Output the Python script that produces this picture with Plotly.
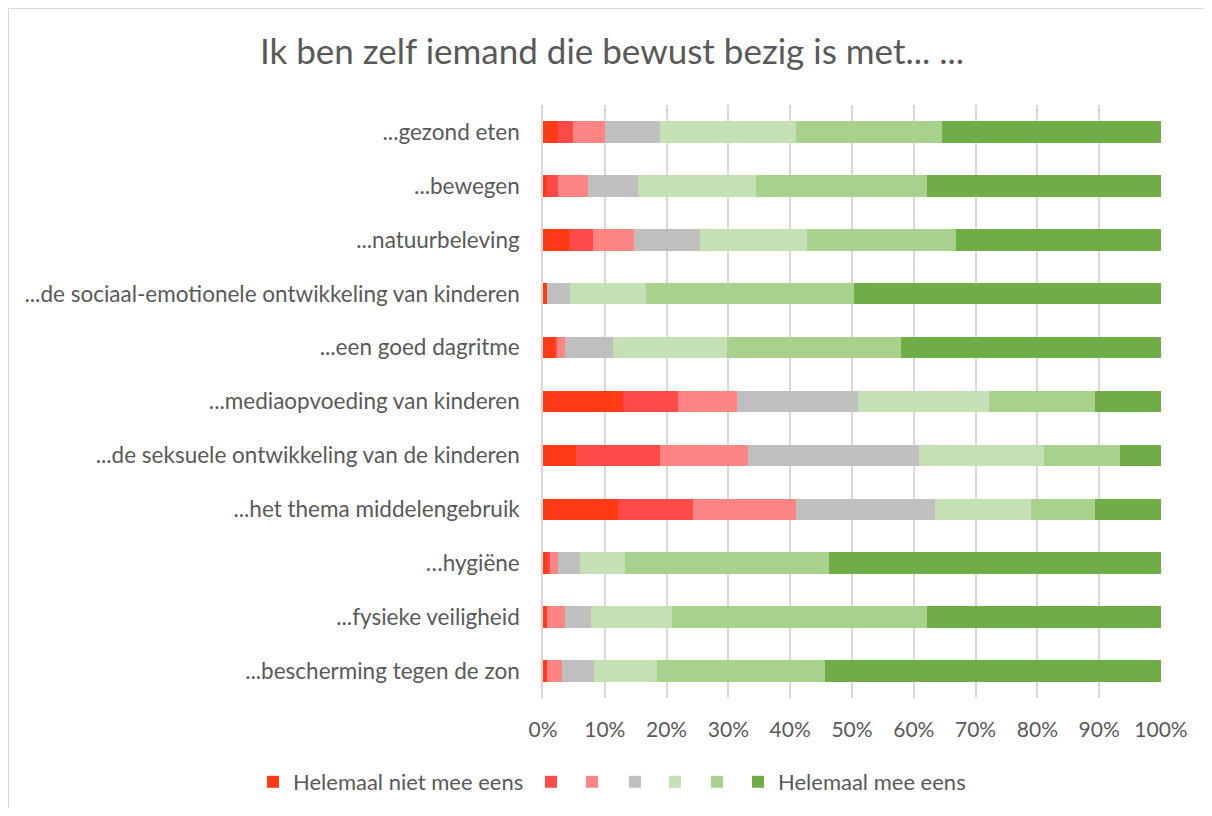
import plotly.graph_objects as go

categories = [
    "...gezond eten",
    "...bewegen",
    "...natuurbeleving",
    "...de sociaal-emotionele ontwikkeling van kinderen",
    "...een goed dagritme",
    "...mediaopvoeding van kinderen",
    "...de seksuele ontwikkeling van de kinderen",
    "...het thema middelengebruik",
    "…hygiëne",
    "...fysieke veiligheid",
    "...bescherming tegen de zon",
]

series_names = ["Helemaal niet mee eens", "", "", "", "", "", "Helemaal mee eens"]
series_colors = ["#FF3A14", "#FF4A4A", "#FF8585", "#BFBFBF", "#C5E0B4", "#A9D18E", "#70AD47"]

s1 = [2.4, 0.6, 4.2, 0.6, 1.9, 13.0, 5.3, 12.1, 0.6, 0.6, 0.6]
s2 = [2.4, 1.8, 3.9, 0.0, 0.4, 8.9, 13.6, 12.1, 0.6, 0.0, 0.0]
s3 = [5.3, 4.8, 6.6, 0.0, 1.3, 9.5, 14.2, 16.7, 1.2, 3.0, 2.4]
s4 = [8.9, 8.2, 10.7, 3.7, 7.7, 19.5, 27.8, 22.6, 3.6, 4.1, 5.3]
s5 = [22.0, 19.0, 17.3, 12.4, 18.4, 21.3, 20.1, 15.4, 7.2, 13.1, 10.2]
s6 = [23.6, 27.8, 24.2, 33.6, 28.3, 17.2, 12.4, 10.5, 33.0, 41.3, 27.2]
s7 = [35.4, 37.8, 33.1, 49.7, 42.0, 10.6, 6.6, 10.6, 53.8, 37.9, 54.3]
series_values = [s1, s2, s3, s4, s5, s6, s7]

x_tickvals = [0, 10, 20, 30, 40, 50, 60, 70, 80, 90, 100]
x_ticktext = ["0%", "10%", "20%", "30%", "40%", "50%", "60%", "70%", "80%", "90%", "100%"]

FONT = "Lato, 'Open Sans', sans-serif"
TXT = "#595959"

# page has an 8px body margin; figure is sized so it fits the 1212x816 window
W, H = 1196, 800
L, R, T, B = 535, 43, 97, 110
pw, ph = W - L - R, H - T - B
plot_bottom = H - B

def px_x(v):
    return (v - L) / pw

def px_y(v):
    return (plot_bottom - v) / ph

# left edge (figure px) of each legend entry, one legend per series
legend_left_px = [245, 523, 564, 607, 647, 689, 730]
legend_ids = ["legend"] + ["legend%d" % i for i in range(2, 8)]

fig = go.Figure()
for name, color, vals, lg in zip(series_names, series_colors, series_values, legend_ids):
    fig.add_trace(go.Bar(
        y=categories, x=vals, name=name, orientation="h",
        marker=dict(color=color, line=dict(width=0)),
        legend=lg, showlegend=True,
        hoverinfo="x+y",
    ))

legend_y = px_y(774)
legend_common = dict(
    orientation="h", xanchor="left", y=legend_y, yanchor="middle",
    font=dict(size=22, color=TXT, family=FONT),
    traceorder="normal", itemwidth=30, bgcolor="rgba(0,0,0,0)",
)
legend_layout = {lg: dict(x=px_x(xl), **legend_common) for lg, xl in zip(legend_ids, legend_left_px)}

fig.update_layout(
    width=W, height=H,
    margin=dict(l=L, r=R, t=T, b=B, pad=0, autoexpand=False),
    showlegend=True,
    barmode="stack",
    bargap=0.6,
    paper_bgcolor="white",
    plot_bgcolor="white",
    font=dict(family=FONT, color=TXT, size=22),
    title=dict(
        text="Ik ben zelf iemand die bewust bezig is met... ...",
        x=604 / W, xanchor="center", y=1 - 44 / H, yanchor="middle",
        font=dict(size=35, color=TXT, family=FONT),
    ),
    xaxis=dict(
        range=[0, 100], tickvals=x_tickvals, ticktext=x_ticktext,
        showgrid=True, gridcolor="#D9D9D9", gridwidth=1.5,
        zeroline=False, showline=False,
        ticks="outside", ticklen=13, tickcolor="rgba(0,0,0,0)",
        tickfont=dict(size=21, color=TXT, family=FONT),
        fixedrange=True,
    ),
    yaxis=dict(
        autorange="reversed",
        showline=True, linecolor="#D9D9D9", linewidth=1.5,
        showgrid=False,
        ticks="outside", ticklen=17, tickcolor="rgba(0,0,0,0)",
        tickfont=dict(size=22.5, color=TXT, family=FONT),
        fixedrange=True,
    ),
    shapes=[dict(
        type="rect", xref="paper", yref="paper",
        x0=px_x(0.5), x1=px_x(W + 30),
        y0=px_y(H + 30), y1=px_y(0.5),
        line=dict(color="#D9D9D9", width=1), fillcolor="rgba(0,0,0,0)",
        layer="below",
    )],
    **legend_layout,
)

fig.write_html("out.html")
